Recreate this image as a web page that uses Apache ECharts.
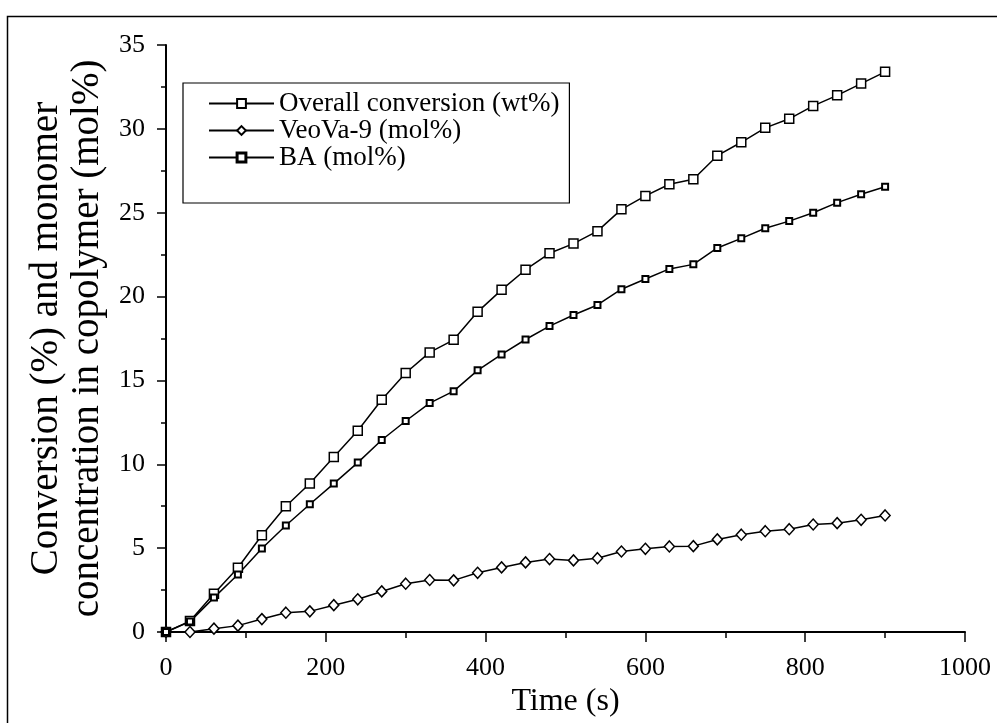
<!DOCTYPE html>
<html>
<head>
<meta charset="utf-8">
<script src="https://cdn.jsdelivr.net/npm/echarts@6/dist/echarts.min.js"></script>
<style>
html,body{margin:0;padding:0;background:#fff;}
#chart{width:997px;height:723px;}
</style>
</head>
<body>
<div id="chart"></div>
<script>
const times = [0,30,60,90,120,150,180,210,240,270,300,330,360,390,420,450,480,510,540,570,600,630,660,690,720,750,780,810,840,870,900];
const overall = [0,0.65,2.28,3.83,5.77,7.5,8.85,10.44,12.0,13.85,15.44,16.67,17.42,19.09,20.4,21.6,22.58,23.16,23.9,25.2,26.0,26.7,26.99,28.4,29.2,30.06,30.6,31.37,32.0,32.7,33.4];
const veova = [0,0.0,0.2,0.38,0.77,1.15,1.23,1.6,1.95,2.42,2.88,3.1,3.08,3.53,3.85,4.15,4.35,4.27,4.4,4.8,4.96,5.1,5.12,5.52,5.8,6.01,6.13,6.41,6.49,6.69,6.95];
const ba = [0,0.62,2.05,3.43,4.98,6.35,7.62,8.85,10.1,11.45,12.58,13.65,14.36,15.6,16.55,17.44,18.24,18.9,19.5,20.44,21.05,21.65,21.92,22.9,23.47,24.07,24.5,25.0,25.6,26.1,26.55];
const seriesNames = ['Overall conversion (wt%)','VeoVa-9 (mol%)','BA (mol%)'];
const xTitle = 'Time (s)';
const yTitle = 'Conversion (%) and monomer\nconcentration in copolymer (mol%)';

const pairs = arr => arr.map((v,i)=>[times[i], v]);
const FONT = '"Liberation Serif","Times New Roman",serif';

const chart = echarts.init(document.getElementById('chart'), null, {renderer:'canvas'});
chart.setOption({
  animation:false,
  backgroundColor:'#fff',
  graphic:[{
    type:'rect', left:5, top:14, silent:true,
    shape:{x:0,y:0,width:1010,height:730},
    style:{fill:'none', stroke:'#000', lineWidth:1.5}
  }],
  grid:{left:166, right:32, top:45, bottom:91, containLabel:false},
  legend:{
    orient:'vertical', left:183, top:83,
    data:[
      {name:seriesNames[0]},
      {name:seriesNames[1]},
      {name:seriesNames[2], itemStyle:{borderWidth:3}}
    ],
    itemWidth:65, itemHeight:11, itemGap:0,
    padding:[7,10,32,25],
    borderColor:'#000', borderWidth:1.2,
    textStyle:{fontFamily:FONT, fontSize:27, color:'#000', lineHeight:27, padding:[0,0,0,0]}
  },
  xAxis:{
    type:'value', min:0, max:1000, interval:200,
    name:xTitle, nameLocation:'middle', nameGap:50,
    nameTextStyle:{fontFamily:FONT, fontSize:32, color:'#000'},
    axisLine:{show:true, onZero:false, lineStyle:{color:'#000', width:2}},
    axisTick:{show:true, inside:false, length:10, lineStyle:{color:'#000', width:1.5}},
    minorTick:{show:true, splitNumber:2, length:6, lineStyle:{color:'#000', width:1.5}},
    axisLabel:{fontFamily:FONT, fontSize:26, color:'#000', margin:23, formatter:v=>String(v)},
    splitLine:{show:false}
  },
  yAxis:{
    type:'value', min:0, max:35, interval:5,
    name:yTitle, nameLocation:'middle', nameGap:55, nameRotate:90,
    nameTextStyle:{fontFamily:FONT, fontSize:39, color:'#000', lineHeight:41},
    axisLine:{show:true, lineStyle:{color:'#000', width:2}},
    axisTick:{show:true, inside:false, length:9, lineStyle:{color:'#000', width:1.5}},
    minorTick:{show:true, splitNumber:2, length:5, lineStyle:{color:'#000', width:1.5}},
    axisLabel:{fontFamily:FONT, fontSize:26, color:'#000', margin:21, formatter:v=>String(v)},
    splitLine:{show:false}
  },
  series:[
    {name:seriesNames[0], type:'line', data:pairs(overall), symbol:'rect', symbolSize:9,
     lineStyle:{color:'#000', width:1.5}, itemStyle:{color:'#fff', borderColor:'#000', borderWidth:1.5}},
    {name:seriesNames[1], type:'line', data:pairs(veova), symbol:'diamond', symbolSize:[10,11],
     lineStyle:{color:'#000', width:1.5}, itemStyle:{color:'#fff', borderColor:'#000', borderWidth:1.5}},
    {name:seriesNames[2], type:'line', data:pairs(ba), symbol:'rect', symbolSize:6,
     lineStyle:{color:'#000', width:1.5}, itemStyle:{color:'#fff', borderColor:'#000', borderWidth:2}}
  ]
});
</script>
</body>
</html>
